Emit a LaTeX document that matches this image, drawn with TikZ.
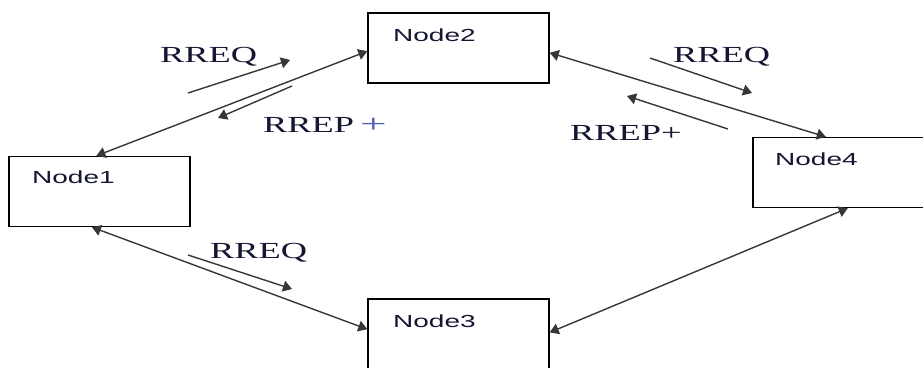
\documentclass[tikz,border=0pt]{standalone}
\usepackage{fontspec}
\setmainfont{Liberation Serif}
\newfontfamily\nodefont{Liberation Sans}
\usetikzlibrary{arrows.meta}
\definecolor{inkblue}{RGB}{20,22,50}
\definecolor{plusblue}{RGB}{80,90,180}
\definecolor{wire}{RGB}{55,55,55}
% wide-set lettering used throughout the figure
\newcommand{\boxname}[1]{\scalebox{1.6}[1]{\nodefont\fontsize{17.5}{20}\selectfont #1}}
\newcommand{\msgname}[1]{\scalebox{1.58}[1]{\fontsize{23}{26}\selectfont #1}}
\tikzset{
  hostbox/.style={draw=black, line width=1.4pt, fill=white, inner sep=0pt,
                  minimum width=181pt, minimum height=70pt},
  hostlabel/.style={anchor=base west, inner sep=0pt, text=inkblue},
  msglabel/.style={anchor=base west, inner sep=0pt, text=inkblue},
  link/.style={draw=wire, line width=1.4pt,
               {Triangle[length=9pt,width=11pt]}-{Triangle[length=9pt,width=11pt]}},
  flow/.style={draw=wire, line width=1.4pt, -{Triangle[length=9pt,width=11pt]}}
}
\begin{document}
\begin{tikzpicture}[x=1pt,y=-1pt]
\useasboundingbox (0,0) rectangle (923,367);
\clip (0,0) rectangle (923,367);

% hosts
\node[hostbox] (n1) at (99.5,191.5) {};
\node[hostbox] (n2) at (458.5,48) {};
\node[hostbox] (n3) at (458.5,334) {};
\node[hostbox, minimum width=182pt] (n4) at (844,172.5) {};

\node[hostlabel] (t1) at (32,183) {\boxname{Node1}};
\node[hostlabel] (t2) at (393,41) {\boxname{Node2}};
\node[hostlabel] (t3) at (393,327) {\boxname{Node3}};
\node[hostlabel] (t4) at (775,165) {\boxname{Node4}};

% links between hosts
\draw[link] (n1.95.5) -- (n2.182.5);
\draw[link] (n2.357.5) -- (n4.117.5);
\draw[link] (n1.258.4) -- (n3.177.5);
\draw[link] (n3.1.25) -- (n4.276);

% message flows
\coordinate (a1s) at (188,93);  \coordinate (a1e) at (290,60);
\coordinate (a2s) at (292,86);  \coordinate (a2e) at (218,118);
\coordinate (a3s) at (650,58);  \coordinate (a3e) at (752,93);
\coordinate (a4s) at (728,129); \coordinate (a4e) at (627,96);
\coordinate (a5s) at (188,255); \coordinate (a5e) at (292,289);
\draw[flow] (a1s) -- (a1e);
\draw[flow] (a2s) -- (a2e);
\draw[flow] (a3s) -- (a3e);
\draw[flow] (a4s) -- (a4e);
\draw[flow] (a5s) -- (a5e);

% message names
\node[msglabel] (m1) at (160,62) {\msgname{RREQ}};
\node[msglabel] (m2) at (263,132) {\msgname{RREP\,\textcolor{plusblue}{\scalebox{1.3}[1.1]{+}}}};
\node[msglabel] (m3) at (673,62) {\msgname{RREQ}};
\node[msglabel] (m4) at (570,140) {\msgname{RREP+}};
\node[msglabel] (m5) at (210,258) {\msgname{RREQ}};
\end{tikzpicture}
\end{document}
